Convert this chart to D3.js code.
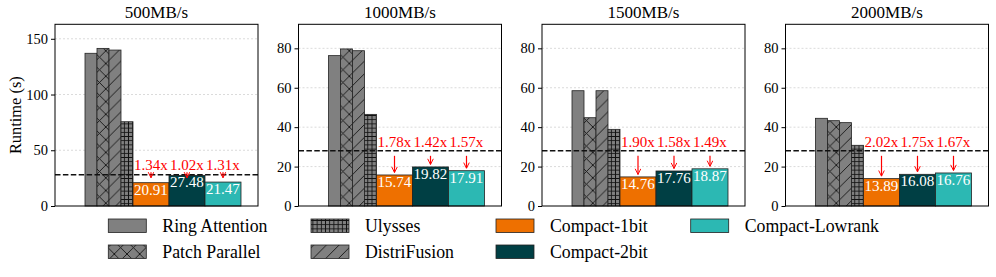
<!DOCTYPE html>
<html><head><meta charset="utf-8">
<script src="https://cdn.jsdelivr.net/npm/d3@7"></script>
<style>body{margin:0;background:#fff}svg{display:block}text{font-family:"Liberation Serif","Times New Roman",serif}</style>
</head><body><svg id="c" width="996" height="277"></svg>
<script>
const panels = ["500MB/s", "1000MB/s", "1500MB/s", "2000MB/s"];
const methods = ["Ring Attention", "Patch Parallel", "DistriFusion", "Ulysses", "Compact-1bit", "Compact-2bit", "Compact-Lowrank"];
const ringAttention = [137.0, 76.3, 58.5, 44.5];
const patchParallel = [141.4, 79.7, 44.8, 43.3];
const distriFusion = [139.9, 78.8, 58.5, 42.3];
const ulysses = [75.6, 46.5, 38.9, 30.8];
const compact1bit = [20.91, 15.74, 14.76, 13.89];
const compact2bit = [27.48, 19.82, 17.76, 16.08];
const compactLowrank = [21.47, 17.91, 18.87, 16.76];
const speedup1bit = ["1.34x", "1.78x", "1.90x", "2.02x"];
const speedup2bit = ["1.02x", "1.42x", "1.58x", "1.75x"];
const speedupLowrank = ["1.31x", "1.57x", "1.49x", "1.67x"];
const baselineRuntime = 28.05;
const yMax = [163, 92.2, 92.2, 92.2];
const yTicks = [[0, 50, 100, 150], [0, 20, 40, 60, 80], [0, 20, 40, 60, 80], [0, 20, 40, 60, 80]];
const yLabel = "Runtime (s)";

const series = [ringAttention, patchParallel, distriFusion, ulysses, compact1bit, compact2bit, compactLowrank];
const speedups = [null, null, null, null, speedup1bit, speedup2bit, speedupLowrank];
const colors = ["#808080", "#808080", "#808080", "#808080", "#ee7000", "#003f44", "#2cb8b3"];
const hatches = [null, "x", "slash", "grid", null, null, null];
const widths = [0.1, 0.1, 0.1, 0.1, 0.3, 0.3, 0.3];

const svg = d3.select("#c");
const defs = svg.append("defs");
function addPattern(id, size, draw) {
  const p = defs.append("pattern").attr("id", id).attr("patternUnits", "userSpaceOnUse")
    .attr("width", size).attr("height", size);
  p.append("rect").attr("width", size).attr("height", size).attr("fill", "#808080");
  draw(p, size);
}
addPattern("h-x", 12.7, (p, s) => {
  p.append("path").attr("d", `M0,${s}L${s},0M${-s/2},${s/2}L${s/2},${-s/2}M${s/2},${s*1.5}L${s*1.5},${s/2}M0,0L${s},${s}M${-s/2},${s/2}L${s/2},${s*1.5}M${s/2},${-s/2}L${s*1.5},${s/2}`)
    .attr("stroke", "#111").attr("stroke-width", 0.9);
});
addPattern("h-slash", 12.7, (p, s) => {
  p.append("path").attr("d", `M0,${s}L${s},0M${-s/2},${s/2}L${s/2},${-s/2}M${s/2},${s*1.5}L${s*1.5},${s/2}`)
    .attr("stroke", "#111").attr("stroke-width", 0.9);
});
addPattern("h-grid", 4.2, (p, s) => {
  p.append("path").attr("d", `M${s/2},0V${s}M0,${s/2}H${s}`).attr("stroke", "#111").attr("stroke-width", 0.9);
});
const arrowDefs = defs.append("marker").attr("id", "arr").attr("viewBox", "0 0 10 10").attr("refX", 9).attr("refY", 5)
  .attr("markerWidth", 7).attr("markerHeight", 7).attr("markerUnits", "userSpaceOnUse").attr("orient", "auto");
arrowDefs.append("path").attr("d", "M1,1L9,5L1,9").attr("fill", "none").attr("stroke", "red").attr("stroke-width", 1.4);

function fillFor(i) { return hatches[i] ? `url(#h-${hatches[i]})` : colors[i]; }

const lefts = [55, 298.5, 542, 785.5];
const pw = 203, plotTop = 24.3, plotBottom = 206;

panels.forEach((title, pi) => {
  const g = svg.append("g").attr("transform", `translate(${lefts[pi]},0)`);
  const x = d3.scaleLinear().domain([0, 1.6917]).range([0, pw]);
  const y = d3.scaleLinear().domain([0, yMax[pi]]).range([plotBottom, plotTop]);
  g.selectAll(".grid").data(yTicks[pi].filter(t => t > 0)).join("line")
    .attr("x1", 0).attr("x2", pw).attr("y1", d => y(d)).attr("y2", d => y(d))
    .attr("stroke", "#d0d0d0").attr("stroke-width", 0.8).attr("stroke-dasharray", "2,2");
  let pos = 0.25;
  const starts = widths.map(w => { const s = pos; pos += w; return s; });
  series.forEach((vals, i) => {
    g.append("rect").attr("x", x(starts[i])).attr("width", x(widths[i]) - x(0))
      .attr("y", y(vals[pi])).attr("height", plotBottom - y(vals[pi]))
      .attr("fill", fillFor(i)).attr("stroke", "#222").attr("stroke-width", 0.8);
  });
  const yb = y(baselineRuntime);
  g.append("line").attr("x1", 0).attr("x2", pw).attr("y1", yb).attr("y2", yb)
    .attr("stroke", "#111").attr("stroke-width", 1.5).attr("stroke-dasharray", "5.5,2.4");
  series.forEach((vals, i) => {
    if (!speedups[i]) return;
    const cx = x(starts[i] + widths[i] / 2);
    const barTop = y(vals[pi]);
    g.append("text").attr("x", cx).attr("y", barTop + 12).attr("text-anchor", "middle")
      .attr("fill", "#fff").attr("font-size", 15).text(vals[pi].toFixed(2));
    const tb = yb - (pi === 0 ? 5 : 3.6);
    g.append("text").attr("x", cx).attr("y", tb).attr("text-anchor", "middle")
      .attr("fill", "red").attr("font-size", 15).text(speedups[i][pi]);
    let y1 = tb + 8.7, y2 = barTop - 2.5;
    if (y2 - y1 < 6) { y1 = tb + 2.5; y2 = tb + 8; }
    g.append("line").attr("x1", cx).attr("x2", cx).attr("y1", y1).attr("y2", y2)
      .attr("stroke", "red").attr("stroke-width", 1.2).attr("marker-end", "url(#arr)");
  });
  g.append("rect").attr("x", 0).attr("y", plotTop).attr("width", pw).attr("height", plotBottom - plotTop)
    .attr("fill", "none").attr("stroke", "#000").attr("stroke-width", 1);
  const ax = g.append("g").call(d3.axisLeft(y).tickValues(yTicks[pi]).tickSize(4).tickPadding(3));
  ax.select(".domain").remove();
  ax.selectAll("text").attr("font-size", 14.5).attr("fill", "#000").style("font-family", '"Liberation Serif", serif');
  ax.selectAll("line").attr("stroke", "#000");
  g.append("text").attr("x", pw / 2).attr("y", 18.3).attr("text-anchor", "middle").attr("font-size", 17).text(title);
});
svg.append("text").attr("transform", `translate(20.5,${(plotTop + plotBottom) / 2}) rotate(-90)`)
  .attr("text-anchor", "middle").attr("font-size", 16.4).text(yLabel);

const legendCols = [[0, 1], [3, 2], [4, 5], [6]];
const colX = [108.3, 311, 496, 690.7];
const rowY = [219, 245];
legendCols.forEach((col, ci) => {
  col.forEach((mi, ri) => {
    svg.append("rect").attr("x", colX[ci]).attr("y", rowY[ri]).attr("width", 38).attr("height", 13.5)
      .attr("fill", fillFor(mi)).attr("stroke", "#222").attr("stroke-width", 0.8);
    svg.append("text").attr("x", colX[ci] + 54).attr("y", rowY[ri] + 13).attr("font-size", 17.8).text(methods[mi]);
  });
});
</script></body></html>
